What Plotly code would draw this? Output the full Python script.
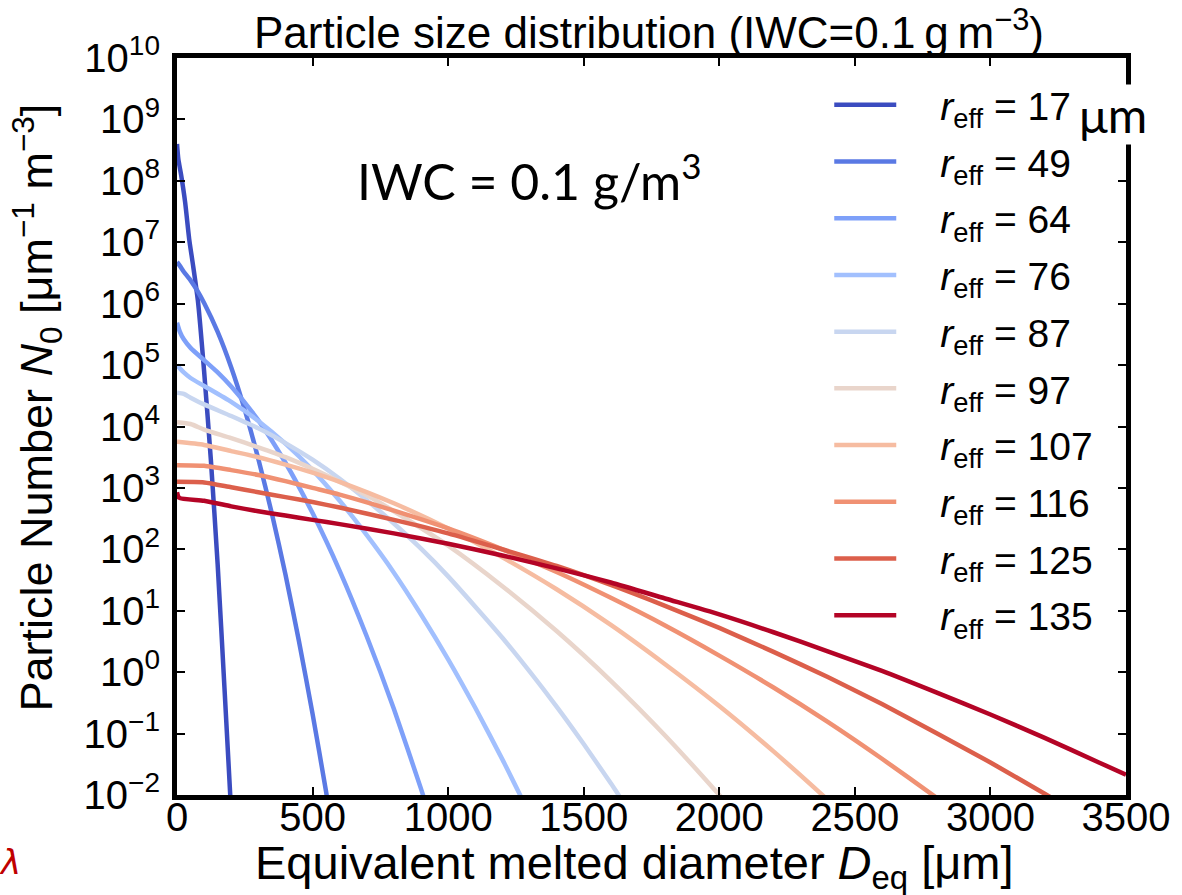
import numpy as np
import plotly.graph_objects as go

# effective radius of each distribution [µm]
r_eff = [17, 49, 64, 76, 87, 97, 107, 116, 125, 135]

# coolwarm-style colours, blue (small r_eff) to red (large r_eff)
colors = ["#3b4cc0", "#5a79e4", "#7ea0f9", "#a2c0fe", "#c8d6f0",
          "#e9d5cb", "#f6bca1", "#f09173", "#dc5f4b", "#b40426"]

# equivalent melted diameter D_eq [µm] and log10 N(D) for each distribution
d_17 = [0, 5, 15, 30, 45, 60, 77, 100, 125, 150, 175, 200]
lg_17 = [8.6, 8.35, 8.1, 7.65, 7.05, 6.6, 6.05, 4.9, 3.45, 1.75, -0.25, -2.3]

d_49 = [0, 10, 25, 50, 75, 100, 150, 200, 250, 300, 350, 400, 450, 500, 550, 580]
lg_49 = [6.68, 6.62, 6.52, 6.38, 6.21, 6.01, 5.54, 4.96, 4.27, 3.47, 2.58, 1.59, 0.50, -0.68, -1.95, -2.77]

d_64 = [0, 10, 25, 50, 100, 150, 200, 300, 400, 500, 600, 700, 800, 900, 950]
lg_64 = [5.69, 5.55, 5.42, 5.28, 5.08, 4.88, 4.65, 4.10, 3.41, 2.59, 1.65, 0.58, -0.60, -1.90, -2.59]

d_76 = [0, 10, 25, 50, 100, 200, 300, 400, 500, 600, 700, 800, 900, 1000, 1100, 1200, 1300]
lg_76 = [5.0, 4.95, 4.88, 4.79, 4.66, 4.40, 4.09, 3.72, 3.29, 2.79, 2.23, 1.62, 0.94, 0.21, -0.58, -1.42, -2.31]

d_87 = [0, 25, 50, 100, 200, 300, 400, 500, 600, 700, 800, 900, 1000, 1200, 1400, 1500, 1600, 1700]
lg_87 = [4.55, 4.53, 4.47, 4.36, 4.17, 3.97, 3.73, 3.46, 3.15, 2.80, 2.42, 2.01, 1.56, 0.56, -0.56, -1.17, -1.81, -2.48]

d_97 = [0, 50, 100, 200, 300, 400, 500, 600, 700, 800, 1000, 1200, 1400, 1600, 1800, 2000, 2100]
lg_97 = [4.07, 4.04, 3.95, 3.81, 3.66, 3.50, 3.31, 3.10, 2.88, 2.62, 2.06, 1.40, 0.67, -0.14, -1.03, -2.00, -2.51]

d_107 = [0, 100, 200, 300, 400, 500, 600, 800, 1000, 1200, 1400, 1600, 1800, 2000, 2200, 2400, 2500]
lg_107 = [3.75, 3.70, 3.60, 3.50, 3.38, 3.25, 3.10, 2.75, 2.34, 1.87, 1.35, 0.77, 0.13, -0.55, -1.29, -2.08, -2.49]

d_116 = [0, 100, 200, 300, 400, 500, 600, 800, 1000, 1200, 1400, 1600, 1800, 2000, 2200, 2400, 2600, 2800, 2900]
lg_116 = [3.37, 3.36, 3.29, 3.21, 3.11, 3.00, 2.89, 2.63, 2.34, 2.00, 1.63, 1.21, 0.76, 0.27, -0.25, -0.81, -1.41, -2.04, -2.37]

d_125 = [0, 100, 200, 300, 400, 500, 600, 800, 1000, 1200, 1400, 1600, 1800, 2000, 2200, 2400, 2600, 2800, 3000, 3200, 3300]
lg_125 = [3.10, 3.09, 3.01, 2.93, 2.85, 2.77, 2.68, 2.48, 2.26, 2.00, 1.73, 1.42, 1.08, 0.72, 0.33, -0.08, -0.52, -0.99, -1.47, -1.98, -2.24]

d_135 = [0, 8, 100, 200, 300, 400, 500, 600, 800, 1000, 1200, 1400, 1600, 1800, 2000, 2200, 2400, 2600, 2800, 3000, 3200, 3400, 3500]
lg_135 = [2.93, 2.84, 2.79, 2.70, 2.62, 2.55, 2.48, 2.41, 2.26, 2.09, 1.90, 1.69, 1.46, 1.20, 0.94, 0.65, 0.34, 0.02, -0.33, -0.69, -1.07, -1.47, -1.67]

diameters = [d_17, d_49, d_64, d_76, d_87, d_97, d_107, d_116, d_125, d_135]
log_numbers = [lg_17, lg_49, lg_64, lg_76, lg_87, lg_97, lg_107, lg_116, lg_125, lg_135]

# axis ticks
x_ticks = [0, 500, 1000, 1500, 2000, 2500, 3000, 3500]
y_exponents = list(range(-2, 11))
y_ticktext = ["10<sup>" + str(e).replace("-", "\u2212") + "</sup>" for e in y_exponents]

W, H = 1182, 895
L, R, T, B = 177, 1130, 58, 795   # plot-area edges in pixels


def px(x):
    return (x - L) / (R - L)


def py(y):
    return (B - y) / (B - T)


FONT = "Liberation Sans, Arial, sans-serif"
SLIDE_FONT = "Lato, Open Sans, sans-serif"

fig = go.Figure()
for r, c, d, lg in zip(r_eff, colors, diameters, log_numbers):
    fig.add_trace(go.Scatter(
        x=d, y=10 ** np.array(lg, dtype=float),
        mode="lines",
        line=dict(color=c, width=4.5, shape="spline", smoothing=0.6),
        name=f"\u2003<i>r</i><sub>eff</sub> = {r}",
        legendgroup=str(r),
    ))

axis_common = dict(
    showline=True, linewidth=5, linecolor="black", mirror="ticks",
    ticks="inside", ticklen=8, tickwidth=1.5, tickcolor="black",
    showgrid=False, zeroline=False,
    tickfont=dict(family=FONT, size=40, color="black"),
)

fig.update_layout(
    width=W, height=H, autosize=False,
    margin=dict(l=L, r=W - R, t=T, b=H - B),
    paper_bgcolor="white", plot_bgcolor="white",
    xaxis=dict(range=[0, 3500], tickvals=x_ticks, ticklabelstandoff=-17, **axis_common),
    yaxis=dict(type="log", range=[-2, 10], tickvals=[10.0 ** e for e in y_exponents],
               ticktext=y_ticktext, ticklabelstandoff=4, **axis_common),
    showlegend=True,
    legend=dict(
        x=px(832), y=py(73), xanchor="left", yanchor="top",
        font=dict(family=FONT, size=39, color="black"),
        bgcolor="rgba(0,0,0,0)", borderwidth=0,
        tracegroupgap=3, itemwidth=62,
    ),
)

annotations = [
    dict(text="Particle size distribution (IWC=0.1\u2009g\u2009m<sup>\u22123</sup>)",
         x=px(651), y=py(30), font=dict(family=FONT, size=44, color="black")),
    dict(text="Equivalent melted diameter <i>D</i><sub>eq</sub> [\u03bcm]",
         x=px(636), y=py(866), font=dict(family=FONT, size=47, color="black")),
    dict(text="Particle Number <i>N</i><sub>0</sub> [\u03bcm<sup>\u22121</sup> m<sup>\u22123</sup>]",
         x=px(36), y=py(408), textangle=-90, font=dict(family=FONT, size=45, color="black")),
    dict(text="IWC = 0.1 g/m<sup>3</sup>",
         x=px(531), y=py(177), font=dict(family=SLIDE_FONT, size=50, color="black")),
    dict(text="\u03bcm", x=px(1117), y=py(114), bgcolor="white",
         font=dict(family=SLIDE_FONT, size=48, color="black")),
    dict(text="<i>\u03bb</i>", x=px(9), y=py(862),
         font=dict(family="DejaVu Sans, sans-serif", size=34, color="#c00000")),
]
for a in annotations:
    a.update(xref="paper", yref="paper", showarrow=False, xanchor="center", yanchor="middle")
fig.update_layout(annotations=annotations)

fig.write_html("out.html")
